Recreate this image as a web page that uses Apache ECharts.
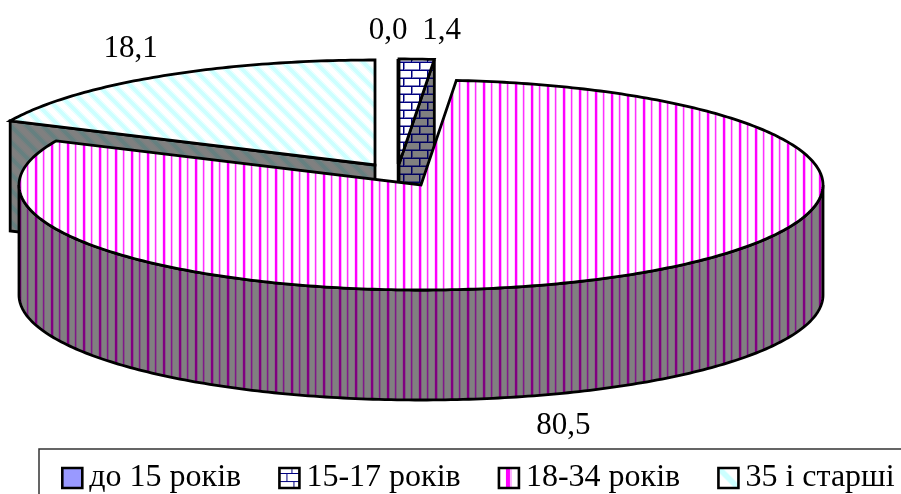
<!DOCTYPE html>
<html>
<head>
<meta charset="utf-8">
<style>html,body{margin:0;padding:0;background:#fff;overflow:hidden}#c{width:901px;height:494px}</style>
<script src="https://cdn.jsdelivr.net/npm/echarts@6/dist/echarts.min.js"></script>
</head>
<body>
<div id="c"></div>
<script>
const categories = ['до 15 років', '15-17 років', '18-34 років', '35 і старші'];
const values = [0.0, 1.4, 80.5, 18.1];

// 3D pie projection
const RX = 402, RY = 105, DEPTH = 110;
const centers = [[399, 164], [399, 164], [421, 185], [375, 165]];
const labelOffsets = [[-11, -28], [25, -28], [-59, 40], [-28, -28]];
const FONT = '"Liberation Serif","Times New Roman",serif';

function tile(w, h, paint) {
  const c = document.createElement('canvas');
  c.width = w; c.height = h;
  paint(c.getContext('2d'));
  return { image: c, repeat: 'repeat' };
}
function stripes(bg, strong, mid, soft) {
  return tile(16, 16, g => {
    g.fillStyle = bg; g.fillRect(0, 0, 16, 16);
    const col = (x, color) => { g.fillStyle = color; g.fillRect(x, 0, 1, 16); };
    col(2, soft[1]); col(3, strong); col(4, strong); col(5, soft[0]);
    col(10, soft[1]); col(11, mid); col(12, soft[0]);
  });
}
function bricks(bg, line, soft) {
  return tile(16, 16, g => {
    g.fillStyle = bg; g.fillRect(0, 0, 16, 16);
    g.fillStyle = soft;
    g.fillRect(0, 5, 16, 1); g.fillRect(0, 13, 16, 1);
    g.fillRect(12, 7, 1, 6); g.fillRect(4, 15, 1, 1); g.fillRect(4, 0, 1, 5);
    g.fillStyle = line;
    g.fillRect(0, 6, 16, 1); g.fillRect(0, 14, 16, 1);
    g.fillRect(11, 7, 1, 7);
    g.fillRect(3, 15, 1, 1); g.fillRect(3, 0, 1, 6);
  });
}
function diagonal(bg, band, soft) {
  return tile(16, 16, g => {
    for (let y = 0; y < 16; y++) for (let x = 0; x < 16; x++) {
      const d = ((x - y - 13) % 16 + 16) % 16;
      const dist = Math.min(d, 16 - d);
      g.fillStyle = dist < 3 ? band : dist < 5 ? soft : bg;
      g.fillRect(x, y, 1, 1);
    }
  });
}
const topFills = [
  '#9999FF',
  bricks('#ffffff', '#000080', '#8080c0'),
  stripes('#ffffff', '#ff00ff', '#ff30ff', ['#ffb0ff', '#ffd8ff']),
  diagonal('#ffffff', '#ccffff', '#e8ffff')
];
const wallFills = [
  '#4d4d80',
  bricks('#808080', '#000060', '#404070'),
  stripes('#808080', '#800080', '#80188a', ['#805880', '#806c80']),
  diagonal('#808080', '#668080', '#768080')
];
const legendFills = [
  '#9999FF',
  tile(20, 20, g => {
    g.fillStyle = '#fff'; g.fillRect(0, 0, 20, 20);
    g.fillStyle = '#000080';
    g.fillRect(0, 5, 20, 1); g.fillRect(0, 13, 20, 1);
    g.fillRect(12, 0, 1, 5); g.fillRect(7, 6, 1, 7); g.fillRect(14, 13, 1, 7);
  }),
  tile(20, 20, g => {
    g.fillStyle = '#fff'; g.fillRect(0, 0, 20, 20);
    g.fillStyle = '#ff00ff'; g.fillRect(7, 0, 4, 20);
    g.fillStyle = '#ffb0ff'; g.fillRect(11, 0, 2, 20);
  }),
  tile(20, 20, g => {
    for (let y = 0; y < 20; y++) for (let x = 0; x < 20; x++) {
      const d = Math.abs(x - y);
      g.fillStyle = d < 4 ? '#ccffff' : d < 5 ? '#e6ffff' : '#ffffff';
      g.fillRect(x, y, 1, 1);
    }
  })
];

const total = values.reduce((a, b) => a + b, 0);
function startAngle(i) {
  let s = 0;
  for (let k = 0; k < i; k++) s += values[k];
  return s / total * 2 * Math.PI;
}
function pt(c, t, dz) { return [c[0] + RX * Math.sin(t), c[1] - RY * Math.cos(t) + (dz || 0)]; }
function arc(c, a, b, dz) {
  const n = Math.max(2, Math.ceil(Math.abs(b - a) / 0.015)), out = [];
  for (let k = 0; k <= n; k++) out.push(pt(c, a + (b - a) * k / n, dz));
  return out;
}
const edge = { stroke: '#000', lineWidth: 2.8, lineJoin: 'miter', miterLimit: 4 };

function renderSlice(i) {
  return function (params, api) {
    const v = api.value(0);
    const a = startAngle(i), b = a + v / total * 2 * Math.PI;
    const c = centers[i];
    const kids = [];
    const apexLow = [c[0], c[1] + DEPTH];
    // radial cut walls visible from the viewer
    if (i !== 2) {
      const t = i === 3 ? a : b;
      kids.push({ type: 'polygon', shape: { points: [pt(c, t), c, apexLow, pt(c, t, DEPTH)] },
        style: Object.assign({ fill: wallFills[i] }, edge, i === 0 ? { lineWidth: 4.5 } : {}) });
    } else {
      // front rim
      const lo = Math.PI / 2, hi = 3 * Math.PI / 2;
      const pts = arc(c, lo, hi, 0).concat(arc(c, hi, lo, DEPTH));
      kids.push({ type: 'polygon', shape: { points: pts }, style: Object.assign({ fill: wallFills[i] }, edge) });
    }
    kids.push({ type: 'polygon', shape: { points: [c].concat(arc(c, a, b, 0)) },
      style: Object.assign({ fill: topFills[i] }, edge, i === 0 ? { lineWidth: 4.5 } : {}) });
    // value label
    const mid = (a + b) / 2;
    const p = pt(c, mid, Math.cos(mid) < 0 ? DEPTH : 0);
    kids.push({ type: 'text', z2: 100, style: {
      text: v.toFixed(1).replace('.', ','),
      x: p[0] + labelOffsets[i][0], y: p[1] + labelOffsets[i][1],
      align: 'center', verticalAlign: 'middle',
      font: '31px ' + FONT, fill: '#000'
    } });
    return { type: 'group', children: kids };
  };
}

const zOrder = [2, 2, 3, 1];
const chart = echarts.init(document.getElementById('c'), null, { renderer: 'canvas' });
chart.setOption({
  animation: false,
  backgroundColor: '#fff',
  tooltip: { show: false },
  legend: {
    left: 39, top: 449, width: 1000,
    padding: [13, 70, 40, 22],
    borderColor: '#333', borderWidth: 1.5,
    itemWidth: 20, itemHeight: 20, itemGap: 37,
    selectedMode: false,
    icon: 'rect',
    textStyle: { fontFamily: FONT, fontSize: 32, color: '#000', padding: [0, 0, 0, 2] },
    data: categories.map((name, i) => ({
      name, icon: 'rect',
      itemStyle: { color: legendFills[i], borderColor: '#000', borderWidth: 2.6 }
    }))
  },
  series: categories.map((name, i) => ({
    type: 'custom', name, coordinateSystem: 'none', z: zOrder[i],
    itemStyle: { color: legendFills[i], borderColor: '#000', borderWidth: 2.6 },
    renderItem: renderSlice(i),
    data: [[values[i]]]
  }))
});
</script>
</body>
</html>
